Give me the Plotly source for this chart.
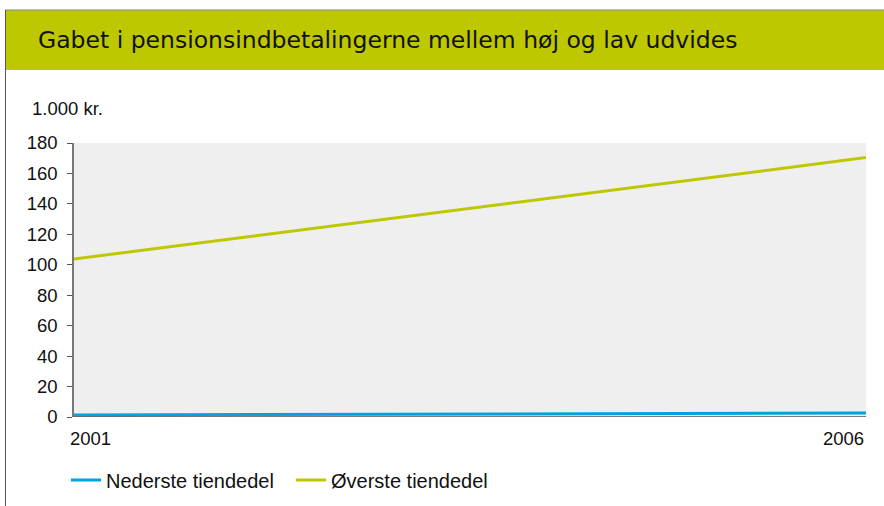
import plotly.graph_objects as go

years = [2001, 2006]
nederste = [1.3, 2.6]
overste = [103.8, 170.4]
series_names = ["Nederste tiendedel", "Øverste tiendedel"]
yticks = [0, 20, 40, 60, 80, 100, 120, 140, 160, 180]

GREEN = "#BEC800"
BLUE = "#00A3E0"

L, R, T, B = 74, 866, 143, 417
W, H = 884, 506
pw, ph = R - L, B - T

def px(x):
    return (x - L) / pw

def py(y):
    return (B - y) / ph

fig = go.Figure()
fig.add_trace(go.Scatter(x=years, y=nederste, mode="lines", name=series_names[0],
                         line=dict(color=BLUE, width=3)))
fig.add_trace(go.Scatter(x=years, y=overste, mode="lines", name=series_names[1],
                         line=dict(color=GREEN, width=3)))

font_main = "Liberation Sans, Arial, sans-serif"
FS = 18.5

fig.update_layout(
    width=W, height=H,
    margin=dict(l=L, r=W - R, t=T, b=H - B, pad=0, autoexpand=False),
    paper_bgcolor="white",
    plot_bgcolor="#EFEFEF",
    font=dict(family=font_main, size=FS, color="#111"),
    showlegend=True,
    legend=dict(orientation="h", x=px(66), y=py(480), xanchor="left", yanchor="middle",
                font=dict(size=20, color="#111"), itemwidth=30, tracegroupgap=0,
                entrywidth=180, entrywidthmode="pixels",
                bgcolor="rgba(0,0,0,0)"),
    xaxis=dict(range=[years[0], years[-1]], showgrid=False, zeroline=False,
               showticklabels=False, ticks="", showline=False, fixedrange=True),
    yaxis=dict(range=[0, 180], tickvals=yticks, showgrid=False, zeroline=False,
               showline=True, linecolor="#777", linewidth=1.5,
               ticks="outside", ticklen=5, tickcolor="#555", tickwidth=1,
               ticklabelstandoff=6, tickfont=dict(size=FS, color="#111"), fixedrange=True),
)

shapes = [
    dict(type="rect", xref="paper", yref="paper", x0=px(5), x1=px(884), y0=py(70), y1=py(10),
         fillcolor=GREEN, line=dict(width=0), layer="below"),
    dict(type="line", xref="paper", yref="paper", x0=px(5), x1=px(884), y0=py(10), y1=py(10),
         line=dict(color="#888", width=1)),
    dict(type="line", xref="paper", yref="paper", x0=px(5.5), x1=px(5.5), y0=py(10), y1=py(506),
         line=dict(color="#555", width=1)),
    dict(type="line", xref="paper", yref="y", x0=0, x1=1, y0=0, y1=0,
         line=dict(color="#555", width=1.5)),
]
fig.update_layout(shapes=shapes)

annotations = [
    dict(text="Gabet i pensionsindbetalingerne mellem høj og lav udvides", xref="paper", yref="paper",
         x=px(36), y=py(40), xanchor="left", yanchor="middle", showarrow=False,
         font=dict(family="DejaVu Sans, sans-serif", size=23.5, color="#111")),
    dict(text="1.000 kr.", xref="paper", yref="paper", x=px(30), y=py(108),
         xanchor="left", yanchor="middle", showarrow=False, font=dict(size=FS)),
    dict(text=str(years[0]), xref="x", yref="paper", x=years[0], y=py(438),
         xanchor="left", yanchor="middle", xshift=-6, showarrow=False, font=dict(size=FS)),
    dict(text=str(years[-1]), xref="x", yref="paper", x=years[-1], y=py(438),
         xanchor="right", yanchor="middle", showarrow=False, font=dict(size=FS)),
]
fig.update_layout(annotations=annotations)

fig.write_html("out.html", config={"displayModeBar": False})

with open("out.html", "r", encoding="utf-8") as f:
    html = f.read()
html = html.replace("<head>", "<head><style>html,body{margin:0;padding:0;}</style>", 1)
with open("out.html", "w", encoding="utf-8") as f:
    f.write(html)
